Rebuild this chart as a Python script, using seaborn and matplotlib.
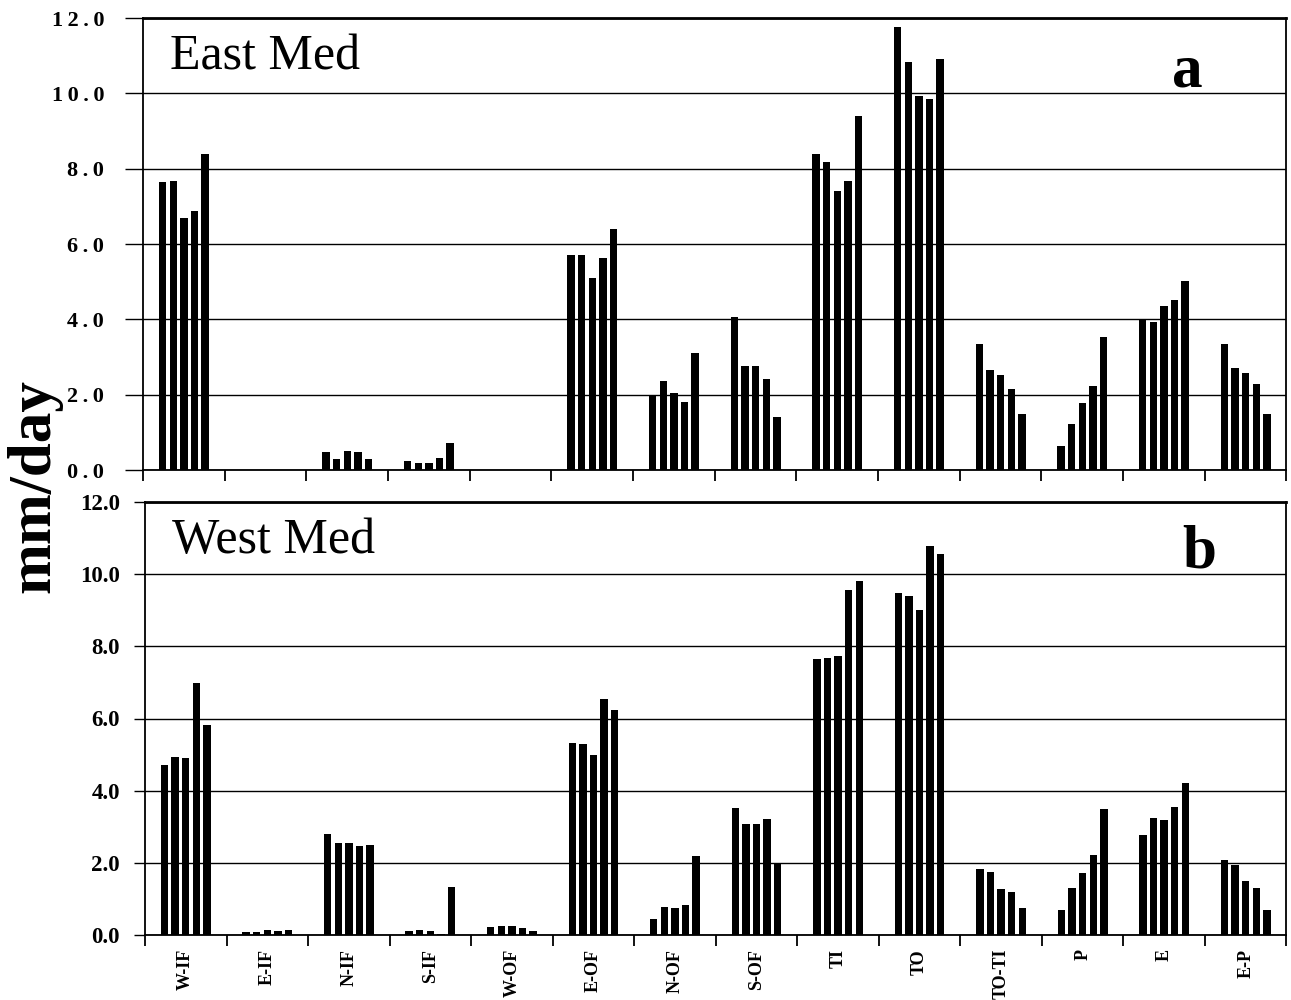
import numpy as np
import pandas as pd
import matplotlib

matplotlib.use('Agg')
import matplotlib.pyplot as plt
import seaborn as sns
from matplotlib.ticker import FuncFormatter

# --- dane (mm/day), 5 słupków na kategorię ---
categories = ["W-IF", "E-IF", "N-IF", "S-IF", "W-OF", "E-OF", "N-OF",
              "S-OF", "TI", "TO", "TO-TI", "P", "E", "E-P"]

east_med = [
    [7.65, 7.67, 6.68, 6.88, 8.38],
    [0.0, 0.0, 0.0, 0.0, 0.0],
    [0.49, 0.28, 0.50, 0.47, 0.28],
    [0.24, 0.19, 0.19, 0.33, 0.72],
    [0.0, 0.0, 0.0, 0.0, 0.0],
    [5.70, 5.72, 5.10, 5.62, 6.40],
    [2.00, 2.35, 2.05, 1.81, 3.10],
    [4.06, 2.76, 2.76, 2.42, 1.42],
    [8.40, 8.17, 7.41, 7.67, 9.41],
    [11.77, 10.84, 9.94, 9.85, 10.90],
    [3.34, 2.65, 2.51, 2.16, 1.48],
    [0.64, 1.23, 1.77, 2.24, 3.52],
    [4.00, 3.94, 4.35, 4.51, 5.03],
    [3.34, 2.70, 2.57, 2.28, 1.50],
]

west_med = [
    [4.70, 4.93, 4.90, 6.99, 5.81],
    [0.07, 0.07, 0.14, 0.10, 0.14],
    [2.79, 2.54, 2.56, 2.47, 2.50],
    [0.10, 0.15, 0.12, 0.04, 1.34],
    [0.22, 0.26, 0.26, 0.20, 0.12],
    [5.33, 5.28, 5.00, 6.53, 6.24],
    [0.43, 0.78, 0.74, 0.83, 2.20],
    [3.52, 3.07, 3.09, 3.22, 2.00],
    [7.66, 7.69, 7.72, 9.56, 9.82],
    [9.48, 9.39, 9.02, 10.78, 10.57],
    [1.84, 1.75, 1.28, 1.18, 0.76],
    [0.69, 1.31, 1.71, 2.23, 3.48],
    [2.76, 3.25, 3.19, 3.55, 4.20],
    [2.07, 1.95, 1.49, 1.31, 0.69],
]

y_ticks = [0.0, 2.0, 4.0, 6.0, 8.0, 10.0, 12.0]


def to_long(values):
    rows = []
    for cat, vals in zip(categories, values):
        for k, v in enumerate(vals):
            rows.append({"cat": cat, "run": k, "val": v})
    return pd.DataFrame(rows)


sns.set_style("white")
plt.rcParams['font.family'] = ['Liberation Serif', 'DejaVu Serif']
plt.rcParams['text.color'] = 'black'
plt.rcParams['xtick.color'] = 'black'
plt.rcParams['ytick.color'] = 'black'
plt.rcParams['axes.labelcolor'] = 'black'

fig = plt.figure(figsize=(12.91, 10), dpi=100)
ax_a = fig.add_axes([0.1108, 0.530, 0.8857, 0.452])
ax_b = fig.add_axes([0.1123, 0.065, 0.8842, 0.433])

panels = [(ax_a, east_med, "East Med", "a", 0.913),
          (ax_b, west_med, "West Med", "b", 0.924)]

for ax, vals, name, letter, lx in panels:
    df = to_long(vals)
    sns.barplot(data=df, x="cat", y="val", hue="run", order=categories,
                palette=["black"] * 5, width=0.65, gap=0.3, legend=False,
                linewidth=0, errorbar=None, ax=ax, zorder=3)
    ax.set_xlim(-0.5, len(categories) - 0.5)
    ax.set_ylim(0, 12)
    ax.set_yticks(y_ticks)
    ax.yaxis.grid(True, color="black", linewidth=1.0)
    ax.set_axisbelow(True)
    ax.set_xlabel("")
    ax.set_ylabel("")
    for s in ax.spines.values():
        s.set_visible(True)
        s.set_color("black")
        s.set_linewidth(1.3)
    ax.spines["top"].set_linewidth(2.0)

    # kreski na granicach kategorii, podpisy na środkach
    ax.set_xticks(np.arange(-0.5, len(categories)), minor=False)
    ax.set_xticklabels([])
    ax.set_xticks(np.arange(len(categories)), minor=True)
    ax.tick_params(axis="x", which="major", direction="out", length=8,
                   width=1.3, color="black", bottom=True)
    ax.tick_params(axis="x", which="minor", length=0)

    ax.text(0.024, 0.965, name, transform=ax.transAxes, fontsize=36,
            ha="left", va="top", color="black")
    ax.text(lx, 0.848, letter, transform=ax.transAxes, fontsize=44,
            fontweight="bold", ha="center", va="baseline", color="black")

# górne etykiety osi Y: szerokie, rozstrzelone cyfry
ax_a.yaxis.set_major_formatter(FuncFormatter(
    lambda v, p: "\u2009".join(f"{v:.1f}")))
ax_a.tick_params(axis="y", direction="out", length=13, width=1.0,
                 color="black", left=True, pad=15)
for lab in ax_a.get_yticklabels():
    lab.set_fontweight("bold")
    lab.set_fontsize(16)

ax_b.yaxis.set_major_formatter(FuncFormatter(lambda v, p: f"{v:.1f}"))
ax_b.tick_params(axis="y", direction="out", length=8, width=1.0,
                 color="black", left=True, pad=10)
for lab in ax_b.get_yticklabels():
    lab.set_fontweight("bold")
    lab.set_fontsize(16.5)

ax_b.set_xticklabels(categories, minor=True, rotation=90, fontsize=13,
                     fontweight="bold", va="top", ha="center")
ax_b.tick_params(axis="x", which="minor", pad=10)

fig.text(0.027, 0.514, "mm/day", rotation=90, fontsize=44,
         fontweight="bold", ha="center", va="center")

fig.savefig("out.png", dpi=100)
plt.close()
